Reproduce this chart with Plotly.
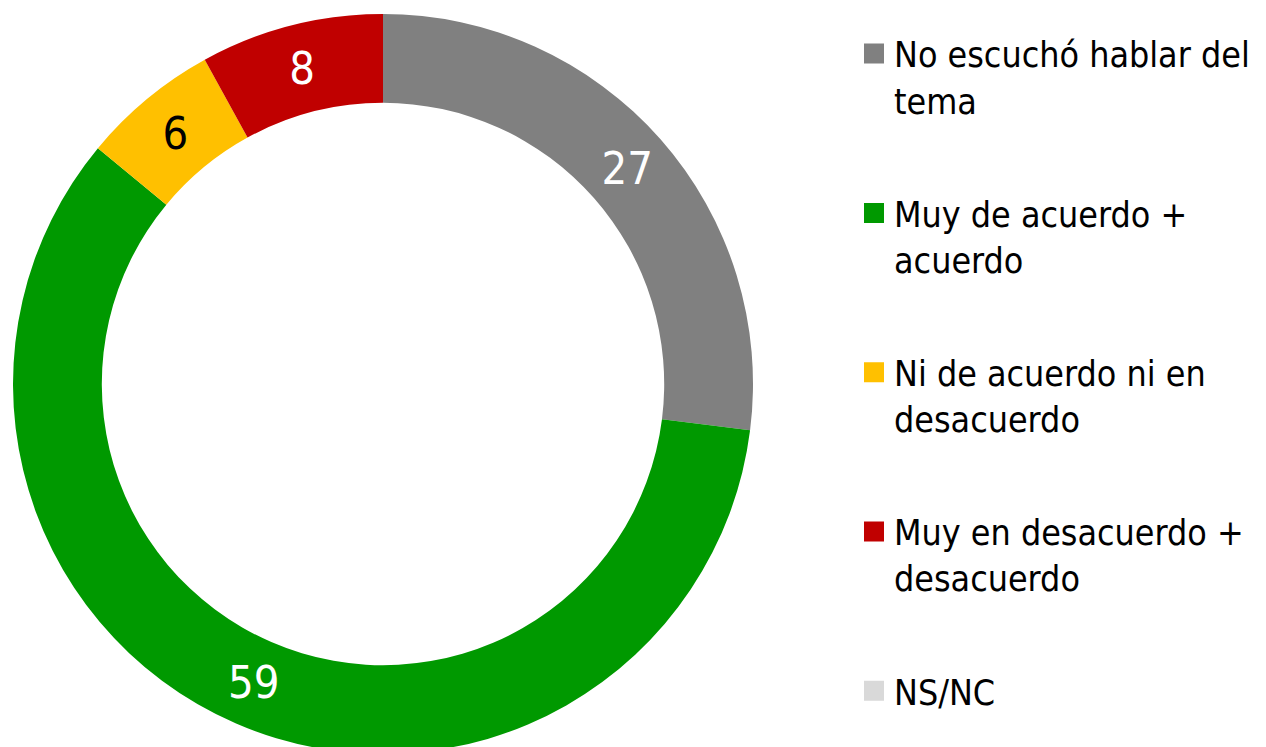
import plotly.graph_objects as go

categories = ["No escuchó hablar del<br>tema", "Muy de acuerdo +<br>acuerdo",
              "Ni de acuerdo ni en<br>desacuerdo", "Muy en desacuerdo +<br>desacuerdo", "NS/NC"]
values = [27, 59, 6, 8, 0]
colors = ["#808080", "#009900", "#FFC000", "#C00000", "#D9D9D9"]
label_colors = ["white", "white", "black", "white", "black"]

W, H = 1266, 760
FONT = "DejaVu Sans Condensed, DejaVu Sans, sans-serif"
CX, CY, R = 375, 376, 370  # figure-pixel geometry of the donut

fig = go.Figure()
fig.add_trace(go.Pie(
    labels=categories, values=values, marker=dict(colors=colors),
    hole=0.76, sort=False, direction="clockwise", rotation=0,
    texttemplate=["%{value}" if v > 0 else "" for v in values],
    textposition="inside", insidetextorientation="horizontal",
    insidetextfont=dict(color=label_colors, size=45, family=FONT),
    showlegend=False, hoverinfo="label+value",
    domain=dict(x=[(CX - R) / W, (CX + R) / W], y=[(H - CY - R) / H, (H - CY + R) / H]),
))
for i, (c, col) in enumerate(zip(categories, colors)):
    fig.add_trace(go.Scatter(
        x=[None], y=[None], mode="markers", name=c, legendgroup=str(i),
        marker=dict(symbol="square", size=16, color=col, line=dict(color=col, width=4)),
    ))

fig.update_layout(
    width=W, height=H, margin=dict(l=0, r=0, t=0, b=0),
    paper_bgcolor="white", plot_bgcolor="white",
    font=dict(family=FONT, size=35, color="black"),
    xaxis=dict(visible=False), yaxis=dict(visible=False),
    uniformtext=dict(minsize=45, mode="show"),
    legend=dict(x=846 / W, y=1 - 16 / H, xanchor="left", yanchor="top",
                traceorder="grouped", tracegroupgap=64, valign="top",
                font=dict(family=FONT, size=35.5), itemsizing="trace"),
)
fig.write_html("out.html")
